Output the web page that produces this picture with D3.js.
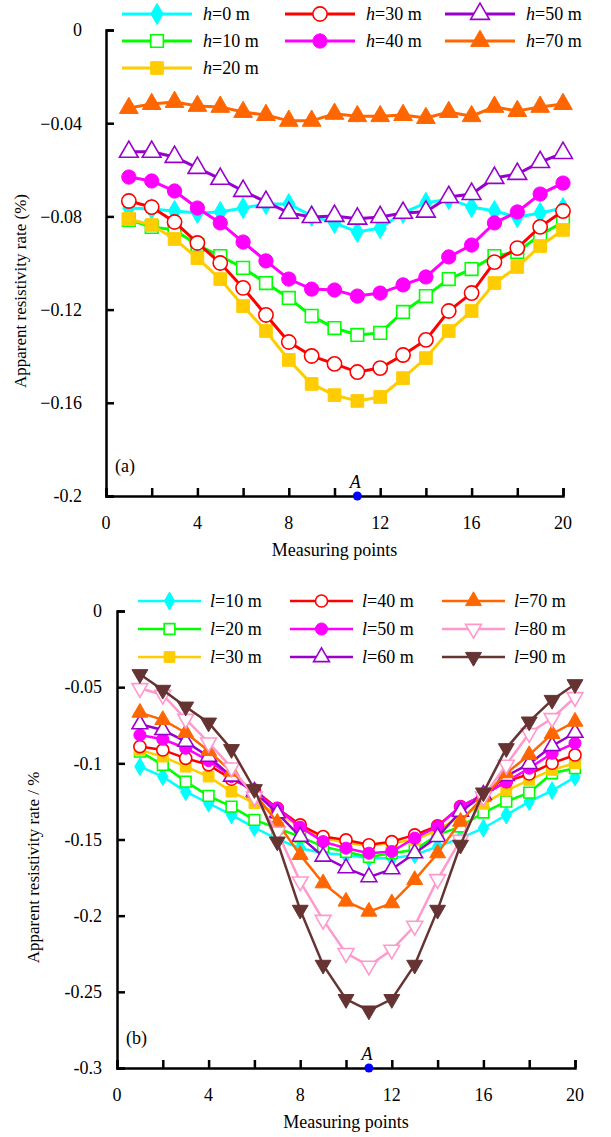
<!DOCTYPE html>
<html lang="en">
<head>
    <meta charset="UTF-8">
    <title>Apparent resistivity rate vs measuring points</title>
    <style>
        body {
            margin: 0;
            padding: 0;
            background-color: #fff;
        }
    </style>
</head>
<body>
    <div id="chart"></div>

    <script src="https://d3js.org/d3.v7.min.js"></script>
    <script>
        // measuring points (x) shared by both panels
        const measuringPoints = [1, 2, 3, 4, 5, 6, 7, 8, 9, 10, 11, 12, 13, 14, 15, 16, 17, 18, 19, 20];

        // panel (a): burial depth h
        const depthNames = ["0", "10", "20", "30", "40", "50", "70"];
        const h0 = [-0.0764, -0.0768, -0.0777, -0.0785, -0.0781, -0.0764, -0.0747, -0.0747, -0.0798, -0.0828, -0.0867, -0.0850, -0.0785, -0.0742, -0.0725, -0.0760, -0.0777, -0.0803, -0.0785, -0.0764];
        const h10 = [-0.0815, -0.0845, -0.0858, -0.0923, -0.0970, -0.1021, -0.1086, -0.1150, -0.1227, -0.1279, -0.1309, -0.1300, -0.1210, -0.1142, -0.1069, -0.1026, -0.0970, -0.0953, -0.0880, -0.0824];
        const h20 = [-0.0811, -0.0837, -0.0897, -0.0979, -0.1069, -0.1185, -0.1292, -0.1416, -0.1519, -0.1567, -0.1592, -0.1575, -0.1494, -0.1408, -0.1292, -0.1206, -0.1086, -0.1017, -0.0927, -0.0858];
        const h30 = [-0.0734, -0.0760, -0.0824, -0.0914, -0.1000, -0.1107, -0.1223, -0.1339, -0.1399, -0.1433, -0.1468, -0.1451, -0.1395, -0.1330, -0.1206, -0.1129, -0.0996, -0.0936, -0.0845, -0.0777];
        const h40 = [-0.0631, -0.0648, -0.0691, -0.0764, -0.0828, -0.0910, -0.0991, -0.1069, -0.1112, -0.1116, -0.1142, -0.1129, -0.1094, -0.1060, -0.0974, -0.0923, -0.0828, -0.0781, -0.0704, -0.0657];
        const h50 = [-0.0523, -0.0523, -0.0545, -0.0592, -0.0639, -0.0691, -0.0738, -0.0785, -0.0803, -0.0798, -0.0810, -0.0803, -0.0785, -0.0780, -0.0717, -0.0704, -0.0635, -0.0618, -0.0567, -0.0528];
        const h70 = [-0.0335, -0.0318, -0.0309, -0.0326, -0.0330, -0.0352, -0.0365, -0.0390, -0.0390, -0.0360, -0.0370, -0.0370, -0.0365, -0.0378, -0.0352, -0.0370, -0.0330, -0.0348, -0.0330, -0.0318];
        const ticksA = [0, -0.04, -0.08, -0.12, -0.16, -0.2];

        // panel (b): length l
        const lengthNames = ["10", "20", "30", "40", "50", "60", "70", "80", "90"];
        const l10 = [-0.1022, -0.1087, -0.1186, -0.1262, -0.1339, -0.1422, -0.1498, -0.1557, -0.1588, -0.1601, -0.1623, -0.1623, -0.1601, -0.1547, -0.1491, -0.1426, -0.1339, -0.1251, -0.1179, -0.1091];
        const l20 = [-0.0923, -0.1010, -0.1120, -0.1214, -0.1284, -0.1371, -0.1426, -0.1481, -0.1547, -0.1581, -0.1614, -0.1590, -0.1568, -0.1470, -0.1415, -0.1323, -0.1251, -0.1192, -0.1065, -0.1032];
        const l30 = [-0.0912, -0.0956, -0.1022, -0.1087, -0.1186, -0.1262, -0.1327, -0.1415, -0.1491, -0.1522, -0.1542, -0.1522, -0.1503, -0.1437, -0.1350, -0.1266, -0.1179, -0.1109, -0.1043, -0.0999];
        const l40 = [-0.0890, -0.0912, -0.0967, -0.1010, -0.1104, -0.1175, -0.1295, -0.1404, -0.1481, -0.1503, -0.1535, -0.1514, -0.1470, -0.1411, -0.1284, -0.1207, -0.1120, -0.1070, -0.0999, -0.0945];
        const l50 = [-0.0814, -0.0842, -0.0901, -0.0982, -0.1087, -0.1192, -0.1295, -0.1419, -0.1514, -0.1557, -0.1590, -0.1579, -0.1491, -0.1415, -0.1284, -0.1207, -0.1120, -0.1032, -0.0934, -0.0868];
        const l60 = [-0.0743, -0.0781, -0.0858, -0.0956, -0.1087, -0.1186, -0.1327, -0.1481, -0.1612, -0.1688, -0.1747, -0.1695, -0.1590, -0.1483, -0.1317, -0.1207, -0.1083, -0.1004, -0.0886, -0.0799];
        const l70 = [-0.0667, -0.0715, -0.0799, -0.0919, -0.1054, -0.1196, -0.1389, -0.1601, -0.1787, -0.1907, -0.1973, -0.1918, -0.1765, -0.1590, -0.1383, -0.1219, -0.1065, -0.0945, -0.0807, -0.0726];
        const l80 = [-0.0507, -0.0551, -0.0709, -0.0864, -0.1028, -0.1219, -0.1450, -0.1776, -0.2028, -0.2246, -0.2329, -0.2224, -0.2067, -0.1761, -0.1503, -0.1219, -0.1010, -0.0802, -0.0704, -0.0566];
        const l90 = [-0.0415, -0.0518, -0.0628, -0.0733, -0.0907, -0.1170, -0.1514, -0.1962, -0.2323, -0.2548, -0.2623, -0.2548, -0.2323, -0.1962, -0.1535, -0.1192, -0.0901, -0.0726, -0.0584, -0.0481];
        const ticksB = [0, -0.05, -0.1, -0.15, -0.2, -0.25, -0.3];

        const xTicks = [0, 2, 4, 6, 8, 10, 12, 14, 16, 18, 20];
        const xLabels = [0, 4, 8, 12, 16, 20];
        const pointA = 11;

        const FONT = "'Liberation Serif', 'DejaVu Serif', serif";

        // marker styles: [symbol, filled, rotate]
        const mk = {
            diamond: [d3.symbolDiamond, true, 0],
            squareOpen: [d3.symbolSquare, false, 0],
            square: [d3.symbolSquare, true, 0],
            circleOpen: [d3.symbolCircle, false, 0],
            circle: [d3.symbolCircle, true, 0],
            triOpen: [d3.symbolTriangle, false, 0],
            tri: [d3.symbolTriangle, true, 0],
            triDownOpen: [d3.symbolTriangle, false, 180],
            triDown: [d3.symbolTriangle, true, 180]
        };

        const panelA = {
            x0: 106, x1: 563, y0: 30, y1: 496,
            domain: [-0.2, 0], ticks: ticksA, labelGap: 24,
            fmt: d => d === 0 ? "0" : (d === -0.2 ? "-0.2" : d3.format(".2f")(d)),
            letter: "h", tag: "(a)", title: "Apparent resistivity rate (%)", titleX: 20,
            lineW: 3, size: 160,
            series: [
                { name: depthNames[0], values: h0, color: "#00FFFF", m: "diamond" },
                { name: depthNames[1], values: h10, color: "#00FF00", m: "squareOpen" },
                { name: depthNames[2], values: h20, color: "#FFCC00", m: "square" },
                { name: depthNames[3], values: h30, color: "#FF0000", m: "circleOpen" },
                { name: depthNames[4], values: h40, color: "#FF00FF", m: "circle" },
                { name: depthNames[5], values: h50, color: "#9900CC", m: "triOpen" },
                { name: depthNames[6], values: h70, color: "#FF6600", m: "tri" }
            ],
            legend: { cols: [122, 285, 445], w: 70, textDx: 11, rows: [14, 41, 68], rowsPerCol: [3, 2, 2] }
        };

        const panelB = {
            x0: 117, x1: 575, y0: 611, y1: 1068,
            domain: [-0.3, 0], ticks: ticksB, labelGap: 15,
            fmt: d => d === 0 ? "0" : String(d),
            letter: "l", tag: "(b)", title: "Apparent resistivity rate / %", titleX: 33,
            lineW: 2.5, size: 115,
            series: [
                { name: lengthNames[0], values: l10, color: "#00FFFF", m: "diamond" },
                { name: lengthNames[1], values: l20, color: "#00FF00", m: "squareOpen" },
                { name: lengthNames[2], values: l30, color: "#FFCC00", m: "square" },
                { name: lengthNames[3], values: l40, color: "#FF0000", m: "circleOpen" },
                { name: lengthNames[4], values: l50, color: "#FF00FF", m: "circle" },
                { name: lengthNames[5], values: l60, color: "#9900CC", m: "triOpen" },
                { name: lengthNames[6], values: l70, color: "#FF6600", m: "tri" },
                { name: lengthNames[7], values: l80, color: "#FF99CC", m: "triDownOpen" },
                { name: lengthNames[8], values: l90, color: "#663333", m: "triDown" }
            ],
            legend: { cols: [138, 290, 442], w: 63, textDx: 9, rows: [601, 629, 657], rowsPerCol: [3, 3, 3] }
        };

        const svg = d3.select("#chart")
            .append("svg")
            .attr("width", 611)
            .attr("height", 1137)
            .attr("font-family", FONT)
            .style("font-family", FONT);

        svg.append("rect").attr("width", 611).attr("height", 1137).attr("fill", "#fff");

        function marker(g, key, color, size, sw) {
            const [type, filled, rot] = mk[key];
            let s = size;
            if (type === d3.symbolTriangle) s = size * 0.95;
            if (type === d3.symbolDiamond) s = size * 0.8;
            return g.append("path")
                .attr("d", d3.symbol().type(type).size(s)())
                .attr("transform", rot ? `rotate(${rot})` : null)
                .attr("fill", filled ? color : "#fff")
                .attr("stroke", color)
                .attr("stroke-width", filled ? 1 : sw);
        }

        function txt(g) {
            return g.append("text").attr("font-family", FONT).style("font-family", FONT).attr("fill", "#000");
        }

        function drawPanel(p) {
            const x = d3.scaleLinear().domain([0, 20]).range([p.x0, p.x1]);
            const y = d3.scaleLinear().domain(p.domain).range([p.y1, p.y0]);
            const g = svg.append("g");

            // axes, ticks pointing inward
            const yAxis = d3.axisLeft(y).tickValues(p.ticks).tickSize(-8).tickFormat("");
            g.append("g").attr("transform", `translate(${p.x0},0)`).call(yAxis)
                .call(s => s.select(".domain").attr("stroke-width", 2.5))
                .call(s => s.selectAll(".tick line").attr("stroke-width", 2.5));
            const xAxis = d3.axisBottom(x).tickValues(xTicks).tickSize(-8).tickFormat("");
            g.append("g").attr("transform", `translate(0,${p.y1})`).call(xAxis)
                .call(s => s.select(".domain").attr("stroke-width", 2.5))
                .call(s => s.selectAll(".tick line").attr("stroke-width", 2.5));

            p.ticks.forEach(d => {
                txt(g).attr("x", p.x0 - p.labelGap)
                    .attr("y", y(d))
                    .attr("dy", "0.35em")
                    .attr("text-anchor", "end")
                    .style("font-size", "18px")
                    .text(p.fmt(d));
            });

            xLabels.forEach(d => {
                txt(g).attr("x", x(d))
                    .attr("y", p.y1 + 33)
                    .attr("text-anchor", "middle")
                    .style("font-size", "18px")
                    .text(d);
            });

            txt(g).attr("x", (p.x0 + p.x1) / 2)
                .attr("y", p.y1 + 60)
                .attr("text-anchor", "middle")
                .style("font-size", "18px")
                .text("Measuring points");

            txt(g).attr("transform", `translate(${p.titleX},${(p.y0 + p.y1) / 2 + 28}) rotate(-90)`)
                .attr("dy", "0.35em")
                .attr("text-anchor", "middle")
                .style("font-size", "17px")
                .text(p.title);

            txt(g).attr("x", p.x0 + 9)
                .attr("y", p.y1 - 24)
                .style("font-size", "18px")
                .text(p.tag);

            // series
            const line = d3.line().x((d, i) => x(measuringPoints[i])).y(d => y(d));
            p.series.forEach(s => {
                g.append("path")
                    .datum(s.values)
                    .attr("d", line)
                    .attr("fill", "none")
                    .attr("stroke", s.color)
                    .attr("stroke-width", p.lineW);
                s.values.forEach((v, i) => {
                    const mg = g.append("g").attr("transform", `translate(${x(measuringPoints[i])},${y(v)})`);
                    marker(mg, s.m, s.color, p.size, 1.6);
                });
            });

            // point A
            g.append("circle")
                .attr("cx", x(pointA))
                .attr("cy", p.y1)
                .attr("r", 4.5)
                .attr("fill", "#0000FF");
            txt(g).attr("x", x(pointA) - 2)
                .attr("y", p.y1 - 8)
                .attr("text-anchor", "middle")
                .style("font-size", "18px")
                .style("font-style", "italic")
                .text("A");

            // legend
            const L = p.legend;
            let k = 0;
            L.rowsPerCol.forEach((n, c) => {
                for (let r = 0; r < n; r++) {
                    const s = p.series[k++];
                    const lg = g.append("g").attr("transform", `translate(${L.cols[c]},${L.rows[r]})`);
                    lg.append("line").attr("x1", 0).attr("x2", L.w)
                        .attr("stroke", s.color).attr("stroke-width", p.lineW);
                    const mg = lg.append("g").attr("transform", `translate(${L.w / 2},0)`);
                    marker(mg, s.m, s.color, p.size, 1.6);
                    const t = txt(lg).attr("x", L.w + L.textDx).attr("dy", "0.35em").style("font-size", "18px");
                    t.append("tspan").style("font-style", "italic").text(p.letter);
                    t.append("tspan").text("=" + s.name + " m");
                }
            });
        }

        drawPanel(panelA);
        drawPanel(panelB);
    </script>
</body>
</html>
